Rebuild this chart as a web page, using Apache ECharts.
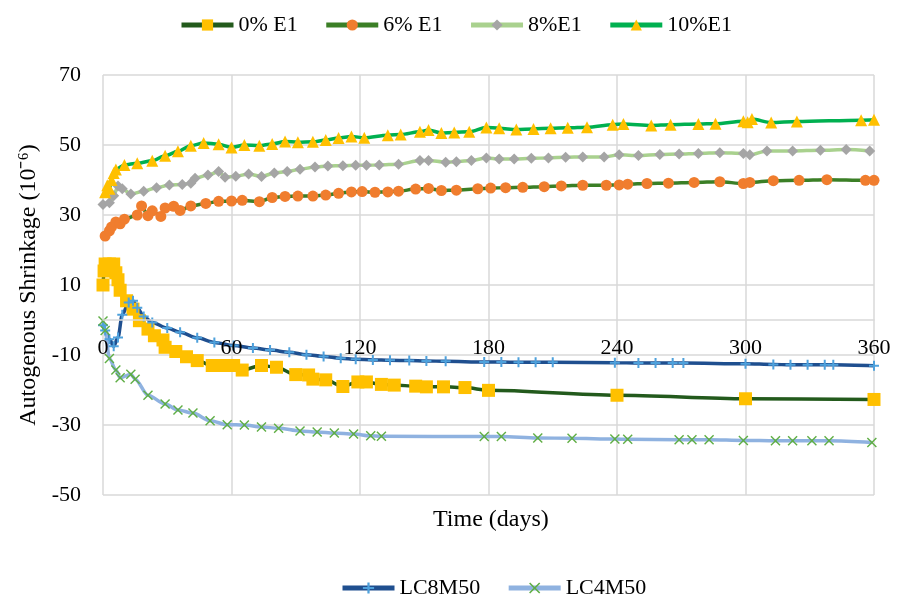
<!DOCTYPE html>
<html>
<head>
<meta charset="utf-8">
<script src="https://cdn.jsdelivr.net/npm/echarts@6/dist/echarts.min.js"></script>
<style>
  html, body { margin: 0; padding: 0; background: #fff; }
  #chart { width: 897px; height: 595px; }
</style>
</head>
<body>
<div id="chart"></div>
<script>
// tick positions
const xTicks = [0, 60, 120, 180, 240, 300, 360];
const yTicks = [-50, -30, -10, 10, 30, 50, 70];

// [day, shrinkage]
const e1_0 = [
  [0, 10], [0.5, 14], [1, 16], [3, 16], [5, 16], [6, 13.5], [7, 11.5], [8, 8.5],
  [11, 5.5], [14, 3.1], [17, -0.2], [21, -2.6], [24, -4.5], [28, -5.7], [29, -7.8],
  [34, -9], [39, -10.5], [44, -11.6], [51, -13], [56, -13], [61, -13], [65, -14.3],
  [74, -13], [81, -13.5], [90, -15.6], [96, -15.7], [98, -16.9], [104, -17.1],
  [112, -19], [119, -17.7], [123, -17.7], [130, -18.4], [136, -18.6], [146, -18.9],
  [151, -19.1], [159, -19.1], [169, -19.3], [180, -20.1], [240, -21.5], [300, -22.5],
  [360, -22.7]
];
const e1_6 = [
  [1, 24], [3, 25.5], [4, 26.6], [6, 28], [8, 27.5], [10, 28.8], [16, 30], [18, 32.6],
  [21, 29.8], [23, 31.2], [27, 29.6], [29, 32], [33, 32.5], [36, 31.3], [41, 32.6],
  [48, 33.3], [54, 33.9], [60, 34], [65, 34.2], [73, 33.8], [79, 35], [85, 35.3],
  [91, 35.4], [98, 35.4], [104, 35.7], [110, 36.2], [116, 36.6], [121, 36.7],
  [127, 36.5], [133, 36.6], [138, 36.8], [146, 37.4], [152, 37.6], [158, 37],
  [165, 37.1], [175, 37.5], [181, 37.7], [188, 37.8], [196, 37.9], [206, 38.1],
  [214, 38.3], [224, 38.5], [235, 38.5], [241, 38.6], [245, 38.8], [254, 39],
  [264, 39.1], [276, 39.3], [288, 39.5], [299, 39], [302, 39.3], [313, 39.8],
  [325, 39.9], [338, 40.1], [356, 39.9], [360, 39.9]
];
const e1_8 = [
  [0, 33], [3, 33.5], [5, 35.5], [7, 38.3], [9, 37.5], [13, 36], [19, 36.8], [25, 37.8],
  [31, 38.6], [37, 38.7], [41, 39.1], [43, 40.5], [49, 41.4], [54, 42.4], [57, 40.8],
  [62, 41.1], [68, 41.7], [74, 41], [80, 42], [86, 42.4], [92, 43.1], [99, 43.7],
  [105, 44], [112, 44.1], [118, 44.2], [123, 44.2], [129, 44.3], [138, 44.5],
  [148, 45.6], [152, 45.6], [160, 45.1], [165, 45.2], [172, 45.6], [179, 46.3],
  [185, 46], [192, 46], [200, 46.2], [208, 46.3], [216, 46.5], [224, 46.6], [234, 46.6],
  [241, 47.2], [250, 47], [260, 47.3], [269, 47.4], [278, 47.6], [288, 47.8],
  [299, 47.6], [302, 47.2], [310, 48.3], [322, 48.3], [335, 48.5], [347, 48.7],
  [358, 48.3]
];
const e1_10 = [
  [1, 36.5], [2, 38.5], [3, 37.5], [4, 40], [5, 42], [6, 43], [10, 44.3], [16, 44.8],
  [23, 45.5], [29, 46.9], [35, 48.2], [41, 49.8], [47, 50.6], [54, 50.2], [60, 49.3],
  [66, 50], [73, 49.8], [79, 50.3], [85, 51], [91, 50.8], [98, 50.9], [104, 51.4],
  [110, 52], [116, 52.4], [122, 52.1], [133, 52.8], [139, 53], [148, 53.8], [152, 54.3],
  [158, 53.4], [164, 53.6], [171, 53.8], [179, 55], [185, 54.8], [193, 54.4],
  [201, 54.6], [209, 54.8], [217, 54.9], [226, 55.1], [238, 55.8], [243, 56],
  [256, 55.6], [265, 55.8], [278, 56], [286, 56.1], [299, 56.8], [301, 56.5],
  [303, 57.4], [312, 56.4], [324, 56.7], [354, 57.1], [360, 57.2]
];
const lc8m50 = [
  [0, -1.5], [1, -3], [3, -5.5], [5, -7.5], [7, -5], [9, 1.5], [12, 5], [14, 5.5],
  [16, 3.5], [19, 1], [23, -0.7], [30, -2.3], [36, -3.5], [44, -5.1], [52, -6.4],
  [61, -7.3], [70, -8], [78, -8.6], [87, -9.2], [95, -9.9], [103, -10.4], [111, -10.9],
  [118, -11.2], [126, -11.4], [134, -11.5], [143, -11.6], [151, -11.7], [160, -11.8],
  [178, -12], [186, -12], [194, -12.1], [202, -12.1], [210, -12.1], [239, -12.2],
  [250, -12.3], [258, -12.3], [266, -12.3], [271, -12.3], [300, -12.5], [313, -12.7],
  [321, -12.8], [329, -12.8], [337, -12.8], [341, -12.8], [360, -13.1]
];
const lc4m50 = [
  [0, -0.3], [1, -3], [3, -11], [6, -14.3], [8, -16.5], [13, -15.5], [15, -16.9],
  [21, -21.5], [29, -24], [35, -25.7], [42, -26.6], [50, -28.8], [58, -29.9], [66, -30],
  [74, -30.6], [82, -30.9], [92, -31.7], [100, -32], [108, -32.3], [117, -32.6],
  [125, -33.1], [130, -33.2], [178, -33.3], [186, -33.3], [203, -33.7], [219, -33.8],
  [239, -34], [245, -34.1], [269, -34.2], [275, -34.2], [283, -34.2], [299, -34.4],
  [314, -34.5], [322, -34.5], [331, -34.5], [339, -34.5], [359, -35]
];

const FONT = "Liberation Serif";
const PLUS = "path://M4,0H6V4H10V6H6V10H4V6H0V4H4Z";
const CROSS = "path://M1,0L5,4L9,0L10,1L6,5L10,9L9,10L5,6L1,10L0,9L4,5L0,1Z";
const GRID_GRAY = "#d9d9d9";

function makeSeries(name, data, lineColor, symbol, markColor, size) {
  return {
    name: name,
    type: "line",
    data: data,
    smooth: 0.3,
    smoothMonotone: "x",
    symbol: symbol,
    symbolSize: size,
    showAllSymbol: true,
    lineStyle: { color: lineColor, width: 3.5 },
    itemStyle: { color: markColor, borderWidth: 0 },
    emphasis: { disabled: true },
    animation: false,
  };
}

const xRange = {
  type: "value",
  min: xTicks[0],
  max: xTicks[xTicks.length - 1],
  interval: xTicks[1] - xTicks[0],
};

const chart = echarts.init(document.getElementById("chart"));
chart.setOption({
  backgroundColor: "#fff",
  textStyle: { fontFamily: FONT },
  title: {
    text: "Time (days)",
    left: 428,
    top: 503,
    textStyle: { fontFamily: FONT, fontSize: 24, fontWeight: "normal", color: "#000" },
  },
  legend: [
    {
      data: ["0% E1", "6% E1", "8%E1", "10%E1"],
      left: 174,
      top: 9,
      itemWidth: 52,
      itemHeight: 14,
      itemGap: 26,
      lineStyle: { width: 5 },
      textStyle: { fontFamily: FONT, fontSize: 22, color: "#000" },
    },
    {
      data: ["LC8M50", "LC4M50"],
      left: 335,
      top: 572,
      itemWidth: 52,
      itemHeight: 14,
      itemGap: 26,
      lineStyle: { width: 5 },
      textStyle: { fontFamily: FONT, fontSize: 22, color: "#000" },
    },
  ],
  grid: { left: 103, right: 23, top: 75, bottom: 100, containLabel: false },
  xAxis: [
    // vertical gridlines, behind the data
    Object.assign({}, xRange, {
      axisLine: { show: false, onZero: false },
      axisTick: { show: false },
      axisLabel: { show: false },
      splitLine: { show: true, lineStyle: { color: GRID_GRAY, width: 1.5 } },
    }),
    // axis line and labels at y = 0, drawn above the data
    Object.assign({}, xRange, {
      z: 10,
      position: "bottom",
      offset: -175,
      axisLine: { show: true, onZero: false, lineStyle: { color: GRID_GRAY, width: 1.5 } },
      axisTick: { show: false },
      axisLabel: { color: "#000", fontFamily: FONT, fontSize: 22, margin: 17 },
      splitLine: { show: false },
    }),
  ],
  yAxis: {
    type: "value",
    min: yTicks[0],
    max: yTicks[yTicks.length - 1],
    interval: yTicks[1] - yTicks[0],
    name: "Autogenous Shrinkage (10\u207B\u2076)",
    nameLocation: "middle",
    nameGap: 58,
    nameTextStyle: { fontFamily: FONT, fontSize: 24, color: "#000" },
    axisLine: { show: false, onZero: false },
    axisTick: { show: false },
    axisLabel: { color: "#000", fontFamily: FONT, fontSize: 22, margin: 22 },
    splitLine: { show: true, lineStyle: { color: GRID_GRAY, width: 1.5 } },
  },
  series: [
    makeSeries("0% E1", e1_0, "#235a1c", "rect", "#ffc000", 13),
    makeSeries("6% E1", e1_6, "#3b7f26", "circle", "#f07d2e", 11),
    makeSeries("8%E1", e1_8, "#a9d18e", "diamond", "#a5a5a5", 11),
    makeSeries("10%E1", e1_10, "#00b050", "triangle", "#ffc000", 12),
    makeSeries("LC8M50", lc8m50, "#1f4f8f", PLUS, "#4ea1dc", 10),
    makeSeries("LC4M50", lc4m50, "#8fb2e0", CROSS, "#5fae44", 10),
  ],
});
</script>
</body>
</html>
